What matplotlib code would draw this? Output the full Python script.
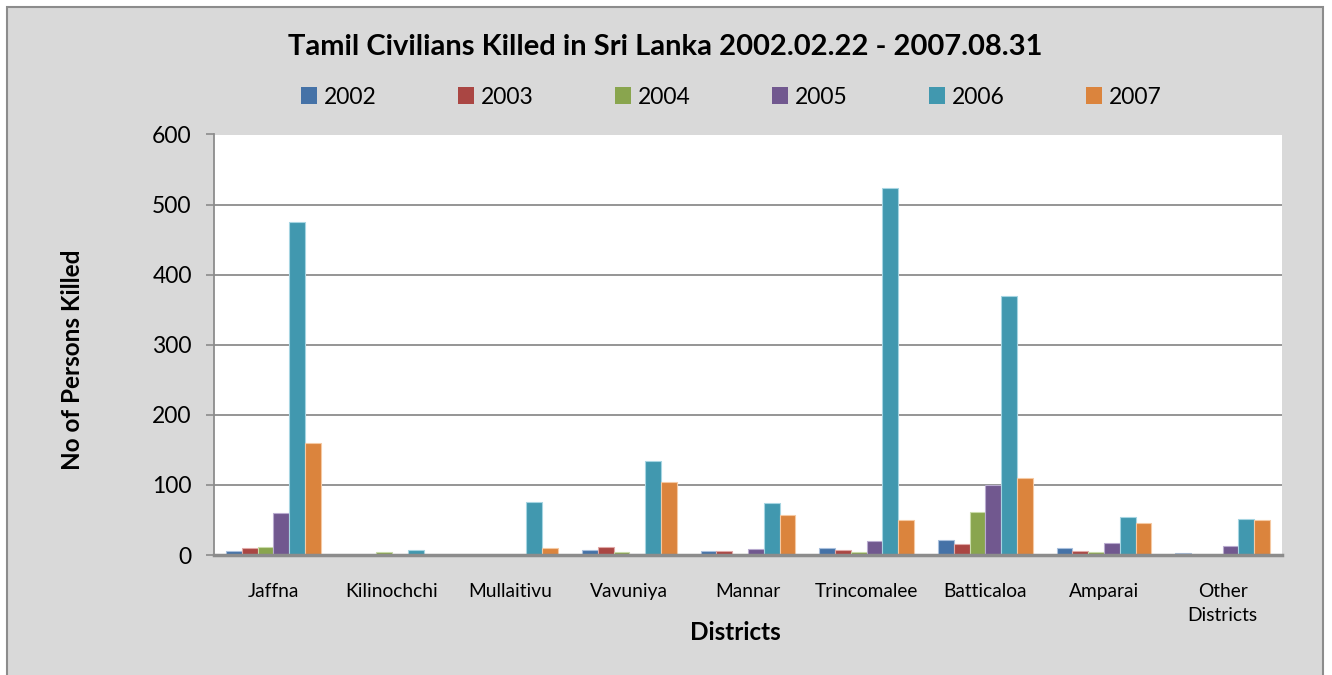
import matplotlib
matplotlib.use("Agg")
import matplotlib.pyplot as plt
import numpy as np
from matplotlib.patches import Rectangle

plt.rcParams['font.family'] = ['Lato', 'DejaVu Sans']

districts = ["Jaffna", "Kilinochchi", "Mullaitivu", "Vavuniya", "Mannar",
             "Trincomalee", "Batticaloa", "Amparai", "Other\nDistricts"]
years = ["2002", "2003", "2004", "2005", "2006", "2007"]
v2002 = [5, 0, 0, 7, 6, 10, 22, 10, 3]
v2003 = [10, 0, 0, 11, 5, 7, 16, 6, 0]
v2004 = [11, 4, 0, 4, 2, 4, 62, 4, 0]
v2005 = [60, 0, 0, 2, 8, 20, 100, 17, 13]
v2006 = [475, 7, 76, 134, 74, 523, 369, 54, 52]
v2007 = [160, 0, 10, 104, 57, 50, 110, 45, 50]
series = [v2002, v2003, v2004, v2005, v2006, v2007]
colors = ["#4572A7", "#AA4643", "#89A54E", "#71588F", "#4198AF", "#DB843D"]
edges = ["#a9c0dd", "#e0a9a7", "#c9dba9", "#b9abcf", "#a6d5e2", "#f5c9a3"]

W, H = 1332, 675
fig = plt.figure(figsize=(W / 100, H / 100), dpi=100, facecolor="white")
fig.patches.append(Rectangle((7 / W, -0.05), (1323 - 7) / W, 1 - 7 / H + 0.05,
                             transform=fig.transFigure, facecolor="#d9d9d9",
                             edgecolor="#8c8c8c", linewidth=1.5, zorder=-10))

ax = fig.add_axes([214 / W, 1 - 555 / H, (1282 - 214) / W, (555 - 134.5) / H])
ax.set_zorder(5)
ax.set_facecolor("white")

x = np.arange(len(districts))
n = len(series)
bw = 0.8 / n
for i, (vals, c, ec) in enumerate(zip(series, colors, edges)):
    lw = [0.8 if v > 0 else 0 for v in vals]
    ax.bar(x - 0.4 + bw * (i + 0.5), vals, width=bw, color=c, edgecolor=ec,
           linewidth=lw, label=years[i], zorder=3)

ax.set_xlim(-0.5, len(districts) - 0.5)
ax.set_ylim(0, 600)
ax.set_yticks(range(0, 601, 100))
ax.yaxis.grid(True, color="#8c8c8c", linewidth=1.3, zorder=1)
ax.set_axisbelow(True)
ax.set_xticks(x)
ax.set_xticklabels(districts, fontsize=13.8, linespacing=1.5)
ax.tick_params(axis='x', length=0, pad=20)
ax.tick_params(axis='y', length=6, width=1.2, color="#8c8c8c", labelsize=16.5, pad=10)
for s in ["top", "right"]:
    ax.spines[s].set_visible(False)
ax.spines["left"].set_color("#8c8c8c")
ax.spines["left"].set_linewidth(1.3)
ax.spines["bottom"].set_color("#8c8c8c")
ax.spines["bottom"].set_linewidth(2.5)
ax.spines["bottom"].set_zorder(4)

fig.text(665 / W, 1 - 47 / H, "Tamil Civilians Killed in Sri Lanka 2002.02.22 - 2007.08.31",
         ha="center", va="center", fontsize=21, fontweight="bold")
fig.text(72 / W, 1 - 360 / H, "No of Persons Killed", rotation=90, ha="center",
         va="center", fontsize=17.5, fontweight="bold")
fig.text(735 / W, 1 - 632 / H, "Districts", ha="center", va="center",
         fontsize=17.5, fontweight="bold")

leg = fig.legend(loc="center", bbox_to_anchor=(731 / W, 1 - 97 / H), ncol=6,
                 frameon=False, fontsize=16.5, handlelength=0.7, handleheight=0.7,
                 handletextpad=0.3, columnspacing=3.55)
for h in leg.legend_handles:
    h.set_edgecolor("none")

fig.savefig("out.png", dpi=100, facecolor="white")
